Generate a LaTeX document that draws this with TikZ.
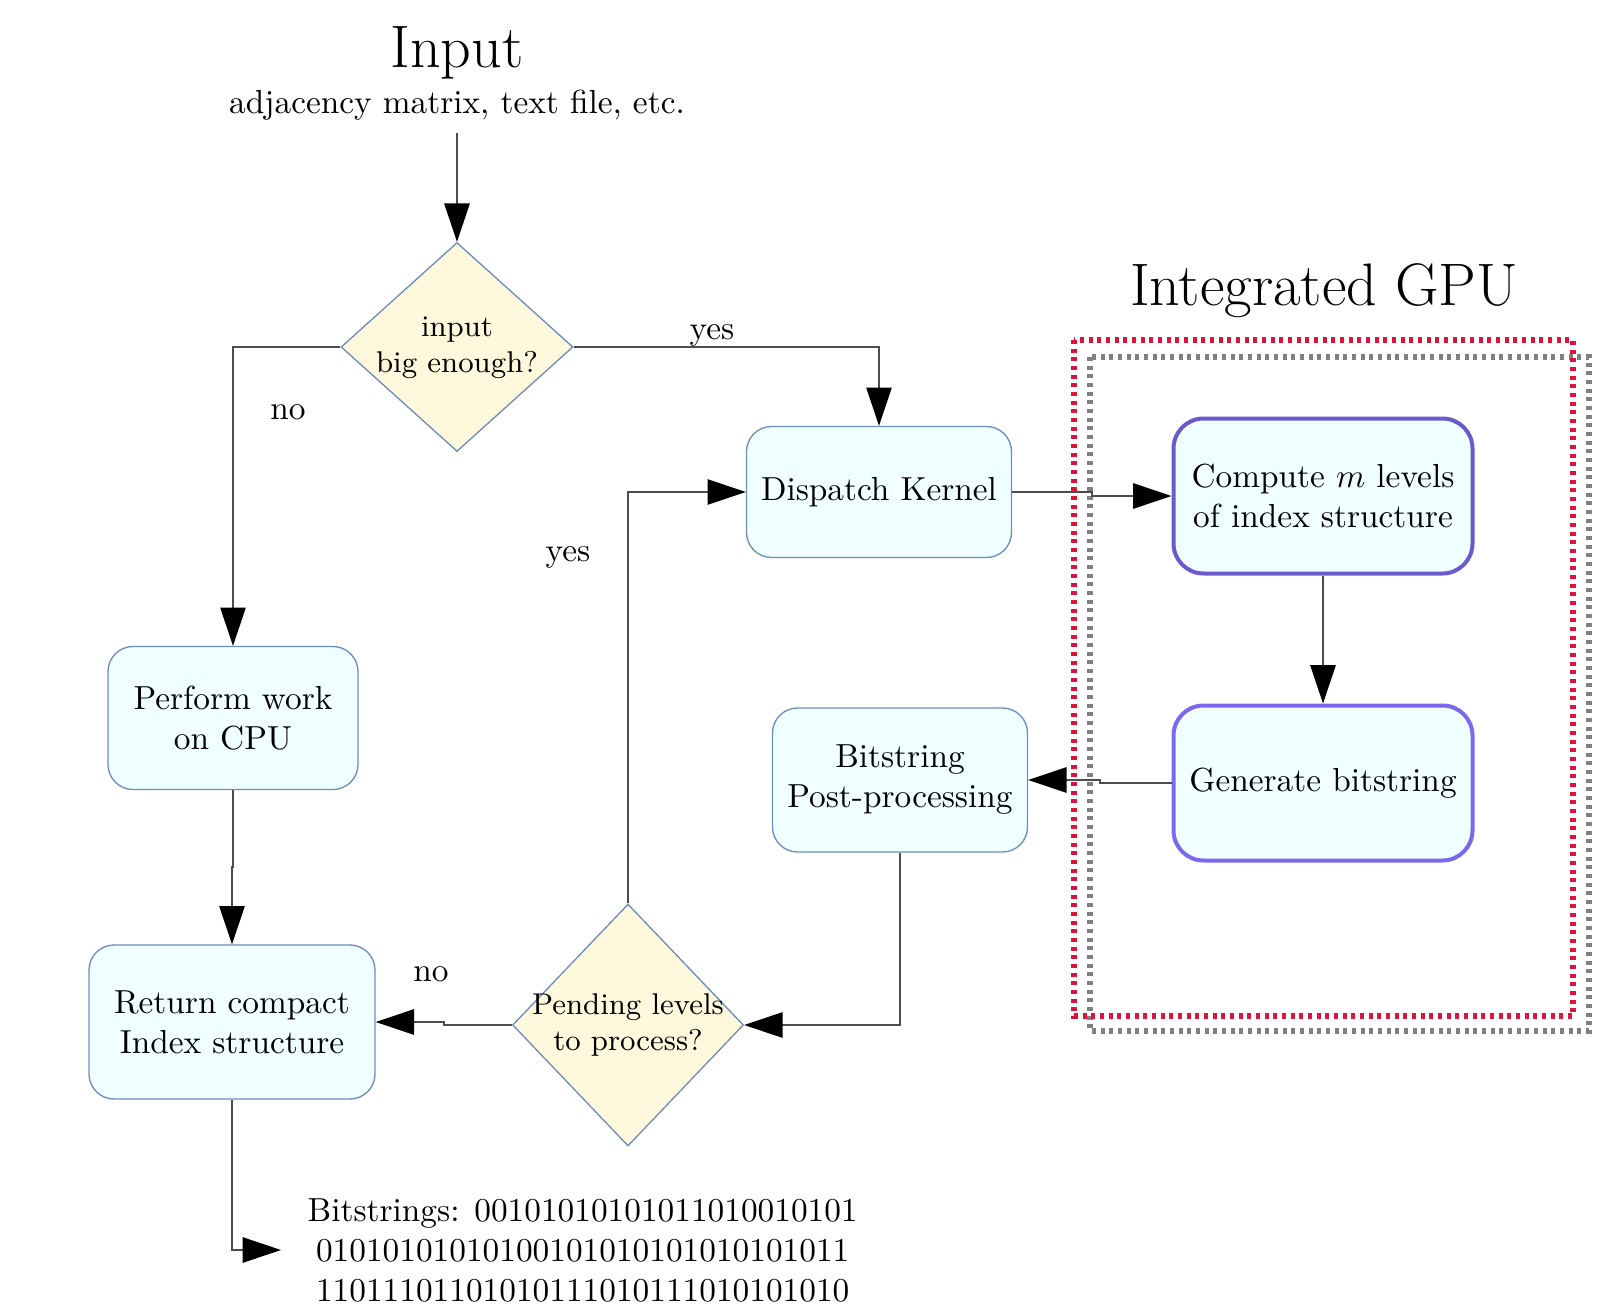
\documentclass[tikz,border=0pt]{standalone}
\usepackage{fontspec}
\usepackage{amsmath}
\usepackage{xcolor}
\usepackage{tikz}
\usetikzlibrary{shapes.geometric,arrows.meta,calc}

\definecolor{boxfill}{HTML}{F0FFFF}
\definecolor{boxline}{HTML}{6C8EBF}
\definecolor{decfill}{HTML}{FFF8DC}
\definecolor{gpuline}{HTML}{6A5ACD}
\definecolor{gpulinelight}{HTML}{7B68EE}
\definecolor{gpured}{HTML}{DC143C}
\definecolor{gpugray}{HTML}{808080}

\newcommand{\dectext}[1]{\makebox[0pt]{\begin{tabular}{@{}c@{}}#1\end{tabular}}}

\begin{document}
\begin{tikzpicture}[
        x=0.3pt, y=-0.3pt,
        process/.style={rectangle, draw=boxline, fill=boxfill, rounded corners=7.5pt, align=center},
        gpubox/.style={rectangle, draw=#1, fill=boxfill, line width=1.2pt, rounded corners=9pt, minimum width=89.7pt, minimum height=46.5pt, align=center},
        decision/.style={diamond, draw=boxline, fill=decfill, inner sep=0pt, font=\small},
        arrow/.style={-{Triangle[length=11.5pt, width=7.6pt, black]}, draw=black!70, line width=0.5pt},
        gpuframe/.style={draw=#1, line width=2pt, dash pattern=on 1.2pt off 1.4pt},
        headline/.style={font=\fontsize{18}{22}\selectfont, anchor=base},
        lbl/.style={anchor=base}
    ]
        \useasboundingbox (0,0) rectangle (1617,1304);

        % Input
        \node[headline] (input) at (457,68) {Input};
        \node[anchor=base, inner ysep=3.5pt] (inputdesc) at (457,114) {adjacency matrix, text file, etc.};

        % Integrated GPU frames
        \node[headline] (gputitle) at (1324,306) {Integrated GPU};
        \draw[gpuframe=gpugray] (1090,357) rectangle (1589,1031);
        \draw[gpuframe=gpured] (1074,340) rectangle (1573,1016);

        % Decisions
        \node[decision, minimum width=69.6pt, minimum height=62.7pt] (bigq) at (457,347) {\dectext{input\\big enough?}};
        \node[decision, minimum width=69.3pt, minimum height=72.6pt] (pendq) at (628,1025) {\dectext{Pending levels\\to process?}};

        % CPU path
        \node[process, minimum width=75pt, minimum height=42.9pt] (perform) at (233,718) {Perform work\\on CPU};
        \node[process, minimum width=85.8pt, minimum height=46.2pt] (return) at (232,1022) {Return compact\\Index structure};

        % GPU path
        \node[process, minimum width=79.5pt, minimum height=39.3pt] (dispatch) at (879,492) {Dispatch Kernel};
        \node[gpubox=gpuline] (compute) at (1323,496) {Compute $m$ levels\\of index structure};
        \node[gpubox=gpulinelight] (generate) at (1323,783) {Generate bitstring};
        \node[process, minimum width=76.5pt, minimum height=43.2pt] (postproc) at (900,780) {Bitstring\\Post-processing};

        % Output
        \node[anchor=west, inner xsep=7.8pt, align=center] (bits) at (281,1250) {Bitstrings: 00101010101011010010101\\01010101010100101010101010101011\\11011101101010111010111010101010};

        % Arrows
        \draw[arrow] (inputdesc.south) -- (bigq.north);
        \draw[arrow] (bigq.west) -| (perform.north);
        \draw[arrow] (bigq.east) -| (dispatch.north);
        \draw[arrow] (dispatch.east) -| ($(dispatch.east)!0.5!(compute.west)$) |- (compute.west);
        \draw[arrow] (compute.south) -- (generate.north);
        \draw[arrow] (generate.west) -| ($(generate.west)!0.5!(postproc.east)$) |- (postproc.east);
        \draw[arrow] (postproc.south) |- (pendq.east);
        \draw[arrow] (pendq.north) |- (dispatch.west);
        \draw[arrow] (pendq.west) -| ($(pendq.west)!0.5!(return.east)$) |- (return.east);
        \draw[arrow] (perform.south) |- ($(perform.south)!0.5!(return.north)$) -| (return.north);
        \draw[arrow] (return.south) |- (bits.west);

        % Branch labels
        \node[lbl] (yesgpu) at (712,340) {yes};
        \node[lbl] (nocpu) at (288,419) {no};
        \node[lbl] (yesloop) at (568,561) {yes};
        \node[lbl] (nodone) at (431,981) {no};
    \end{tikzpicture}
\end{document}
